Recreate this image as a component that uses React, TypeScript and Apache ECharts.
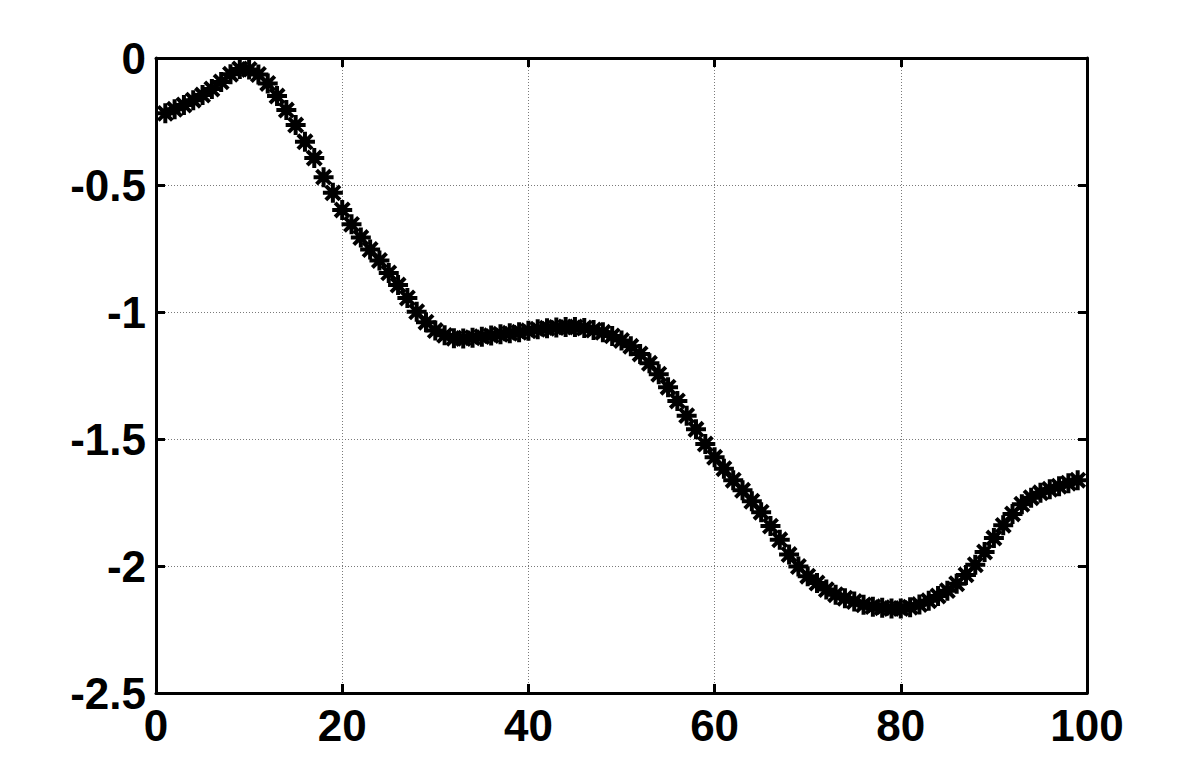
import React, { useEffect, useRef } from "react";
import * as echarts from "echarts";

const xValues: number[] = Array.from({ length: 99 }, (_, i) => i + 1);
const yValues: number[] = [
  -0.218, -0.202, -0.185, -0.166, -0.146, -0.122, -0.094, -0.064, -0.043, -0.045,
  -0.065, -0.1, -0.15, -0.205, -0.264, -0.33, -0.394, -0.469, -0.531, -0.598,
  -0.655, -0.707, -0.754, -0.797, -0.846, -0.894, -0.945, -0.999, -1.04, -1.073,
  -1.092, -1.103, -1.104, -1.101, -1.097, -1.093, -1.088, -1.084, -1.08, -1.074,
  -1.068, -1.064, -1.061, -1.059, -1.059, -1.063, -1.071, -1.08, -1.094, -1.112,
  -1.135, -1.165, -1.202, -1.245, -1.296, -1.35, -1.408, -1.462, -1.52, -1.572,
  -1.617, -1.662, -1.702, -1.745, -1.788, -1.843, -1.897, -1.955, -2.002, -2.04,
  -2.067, -2.093, -2.113, -2.127, -2.14, -2.153, -2.16, -2.164, -2.167, -2.167,
  -2.162, -2.152, -2.137, -2.118, -2.097, -2.07, -2.035, -1.995, -1.945, -1.89,
  -1.84, -1.795, -1.757, -1.731, -1.712, -1.698, -1.686, -1.674, -1.662,
];
const xTicks = { min: 0, max: 100, interval: 20 };
const yTicks = { min: -2.5, max: 0, interval: 0.5 };

const ASTERISK =
  "path://M10,0L10,20M0,10L20,10M2.93,2.93L17.07,17.07M2.93,17.07L17.07,2.93";

export default function App() {
  const ref = useRef<HTMLDivElement>(null);
  useEffect(() => {
    if (!ref.current) return;
    const chart = echarts.init(ref.current, null, { renderer: "svg" });
    const labelFont = {
      fontFamily: "'Liberation Sans', Arial, sans-serif",
      fontWeight: "bold" as const,
      fontSize: 44,
      color: "#000",
    };
    const axisLine = { show: true, onZero: false, lineStyle: { color: "#000", width: 3 } };
    const tick = { show: true, inside: true, length: 9, lineStyle: { color: "#000", width: 3 } };
    const split = { show: true, lineStyle: { color: "#7a7a7a", width: 1, type: [1, 2] as any } };
    chart.setOption({
      animation: false,
      backgroundColor: "#fff",
      grid: { left: 156, top: 58, width: 931, height: 635, containLabel: false },
      xAxis: [
        {
          type: "value",
          position: "bottom",
          ...xTicks,
          axisLine,
          axisTick: tick,
          splitLine: split,
          axisLabel: { ...labelFont, margin: 10 },
        },
        {
          type: "value",
          position: "top",
          ...xTicks,
          axisLine,
          axisTick: tick,
          splitLine: { show: false },
          axisLabel: { show: false },
        },
      ],
      yAxis: [
        {
          type: "value",
          position: "left",
          ...yTicks,
          axisLine,
          axisTick: tick,
          splitLine: split,
          axisLabel: { ...labelFont, margin: 10 },
        },
        {
          type: "value",
          position: "right",
          ...yTicks,
          axisLine,
          axisTick: tick,
          splitLine: { show: false },
          axisLabel: { show: false },
        },
      ],
      series: [
        {
          type: "scatter",
          xAxisIndex: 0,
          yAxisIndex: 0,
          data: xValues.map((x, i) => [x, yValues[i]]),
          symbol: ASTERISK,
          symbolSize: 20,
          itemStyle: { color: "#000", borderColor: "#000", borderWidth: 4, opacity: 1 },
          clip: false,
        },
      ],
    });
    return () => chart.dispose();
  }, []);
  return (
    <div
      ref={ref}
      style={{ position: "fixed", left: 0, top: 0, width: 1200, height: 779 }}
    />
  );
}
